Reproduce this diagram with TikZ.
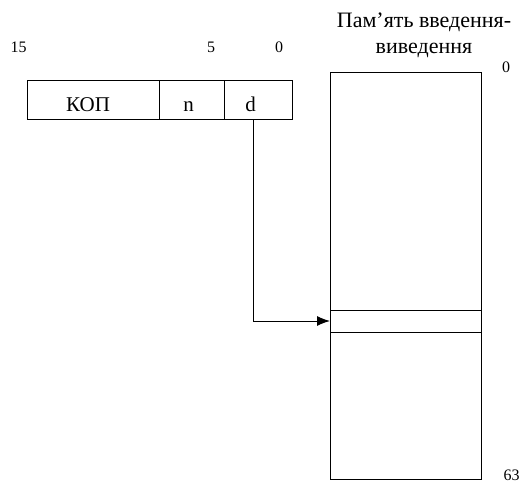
\documentclass[tikz,border=0pt]{standalone}
\usepackage{fontspec}
\setmainfont{Liberation Serif}
\usetikzlibrary{arrows.meta,positioning}
\tikzset{
  io field/.style={draw, line width=1pt, outer sep=0pt, inner sep=0pt, minimum height=39pt, text height=23pt, text depth=0pt, font=\fontsize{21}{21}\selectfont},
  io mem/.style={draw, line width=1pt, outer sep=0pt, inner sep=0pt, minimum width=151pt},
  io num/.style={font=\fontsize{16}{16}\selectfont},
  io title/.style={font=\fontsize{22}{26}\selectfont, align=center, inner sep=0pt},
  io link/.style={draw, line width=1pt, -{Latex[length=13pt, width=10pt]}},
}
\begin{document}
\begin{tikzpicture}[x=1pt, y=-1pt]
  \useasboundingbox (0,0) rectangle (525,484);

  % Instruction format
  \node[io field, minimum width=132pt, anchor=north west] (kop) at (27,81) {КОП\kern10pt};
  \node[io field, minimum width=65pt, right=0pt of kop] (n) {n\kern6pt};
  \node[io field, minimum width=68pt, right=0pt of n] (d) {d\kern15pt};

  % Bit numbers
  \node[io num] (b15) at (18.5,47) {15};
  \node[io num] (b5) at (211,47) {5};
  \node[io num] (b0) at (279,47) {0};

  % I/O memory
  \node[io title] (title) at (424,35) {Пам’ять введення-\\виведення};
  \node[io mem, minimum height=406pt, anchor=north west] (mem) at (330,73) {};
  \node[io mem, minimum height=22pt, anchor=north west] (cell) at (330,310) {};
  \node[io num] (a0) at (506,67) {0};
  \node[io num] (a63) at (511.5,475) {63};

  % Address field to cell
  \draw[io link] ([xshift=-5pt]d.south) |- (cell.west);
\end{tikzpicture}
\end{document}
